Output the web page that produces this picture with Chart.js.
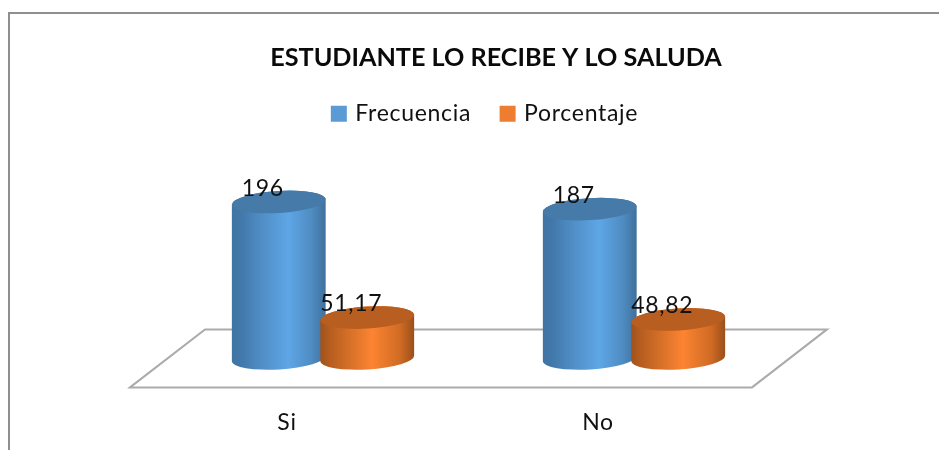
<!DOCTYPE html>
<html><head><meta charset="utf-8">
<style>html,body{margin:0;padding:0;background:#fff;overflow:hidden}canvas{display:block;filter:blur(0.4px)}</style>
<script src="https://cdn.jsdelivr.net/npm/chart.js@4"></script>
</head><body><canvas id="c" width="939" height="450"></canvas>
<script>
const chartTitle = 'ESTUDIANTE LO RECIBE Y LO SALUDA';
const categories = ['Si', 'No'];
const seriesNames = ['Frecuencia', 'Porcentaje'];
const frecuencia = [196, 187];
const porcentaje = [51.17, 48.82];

const legendColors = ['#5b9bd5', '#ed7d31'];
const capColors = ['#457aa9', '#b85e20'];
const bodyStops = [
  [[0,'#3f74a3'],[0.1,'#4278aa'],[0.3,'#4f8cc4'],[0.6,'#5ea6e6'],[0.85,'#4f8cc2'],[1,'#3f719c']],
  [[0,'#a0521c'],[0.1,'#b65d20'],[0.3,'#d46f27'],[0.55,'#fc8432'],[0.85,'#d06b24'],[1,'#9a4f1a']]
];
const FONT = 'Lato, Carlito, sans-serif';
const SPACING = '0.7px';
const TILT = -0.06, RY = 11;

function drawCylinder(ctx, el, ds) {
  const {x, y, base, width} = el.getProps(['x','y','base','width'], true);
  const rx = width / 2;
  const g = ctx.createLinearGradient(x - rx, 0, x + rx, 0);
  bodyStops[ds].forEach(s => g.addColorStop(s[0], s[1]));
  ctx.beginPath();
  ctx.ellipse(x, base, rx, RY, TILT, 0, Math.PI);
  ctx.ellipse(x, y, rx, RY, TILT, Math.PI, 2 * Math.PI);
  ctx.closePath();
  ctx.fillStyle = g;
  ctx.fill();
  ctx.beginPath();
  ctx.ellipse(x, y, rx, RY, TILT, 0, 2 * Math.PI);
  ctx.fillStyle = capColors[ds];
  ctx.fill();
}

const scene = {
  id: 'scene',
  beforeLayout(chart) { chart.ctx.letterSpacing = SPACING; },
  afterLayout(chart) {
    const t = chart.titleBlock;
    t.left += 17.5; t.right += 17.5;
    if (!t._wrapped) {
      const d = t.draw.bind(t);
      t.draw = () => {
        chart.ctx.letterSpacing = '0px';
        d();
        chart.ctx.letterSpacing = SPACING;
      };
      t._wrapped = true;
    }
    chart.legend.left += 7.5; chart.legend.right += 7.5;
  },
  beforeDraw(chart) {
    const ctx = chart.ctx;
    ctx.save();
    ctx.strokeStyle = '#8f8f8f';
    ctx.lineWidth = 2;
    ctx.beginPath();
    ctx.moveTo(9, chart.height);
    ctx.lineTo(9, 13);
    ctx.lineTo(chart.width, 13);
    ctx.stroke();
    ctx.restore();
  },
  beforeDatasetsDraw(chart) {
    const ctx = chart.ctx, a = chart.chartArea, y0 = chart.scales.y.getPixelForValue(0);
    ctx.save();
    ctx.strokeStyle = '#ababab';
    ctx.lineWidth = 2;
    ctx.beginPath();
    ctx.moveTo(a.left - 37.5, y0 + 29);
    ctx.lineTo(a.left + 37.5, y0 - 29);
    ctx.lineTo(a.right + 37.5, y0 - 29);
    ctx.lineTo(a.right - 37.5, y0 + 29);
    ctx.closePath();
    ctx.stroke();
    ctx.restore();
  },
  beforeDatasetDraw() { return false; },
  afterDatasetsDraw(chart) {
    const ctx = chart.ctx;
    ctx.save();
    categories.forEach((_, i) => {
      chart.data.datasets.forEach((d, ds) => {
        drawCylinder(ctx, chart.getDatasetMeta(ds).data[i], ds);
      });
    });
    ctx.font = '23px ' + FONT;
    ctx.fillStyle = '#111';
    ctx.textAlign = 'center';
    ctx.textBaseline = 'middle';
    chart.data.datasets.forEach((d, ds) => {
      chart.getDatasetMeta(ds).data.forEach((el, i) => {
        ctx.fillText(String(d.data[i]).replace('.', ','), el.x - 16, el.y - 13.5);
      });
    });
    ctx.restore();
  }
};

new Chart(document.getElementById('c'), {
  type: 'bar',
  data: {
    labels: categories,
    datasets: [
      {label: seriesNames[0], data: frecuencia, backgroundColor: legendColors[0], borderColor: legendColors[0], borderWidth: 6},
      {label: seriesNames[1], data: porcentaje, backgroundColor: legendColors[1], borderColor: legendColors[1], borderWidth: 6}
    ]
  },
  plugins: [scene],
  options: {
    responsive: false,
    animation: false,
    categoryPercentage: 0.569,
    barPercentage: 1.062,
    layout: {padding: {left: 167.5, right: 149.5, top: 0, bottom: -28}},
    scales: {
      x: {
        grid: {display: false},
        border: {display: false},
        ticks: {font: {family: FONT, size: 23}, color: '#111', labelOffset: -36, padding: 42, maxRotation: 0}
      },
      y: {display: false, min: 0, max: 279.6}
    },
    plugins: {
      tooltip: {enabled: false},
      title: {
        display: true, text: chartTitle, color: '#0a0a0a',
        font: {family: FONT, size: 25.2, weight: 'bold', lineHeight: 1},
        padding: {top: 45.5, bottom: 0}
      },
      legend: {
        position: 'top',
        labels: {
          font: {family: FONT, size: 23}, color: '#111',
          boxWidth: 10, boxHeight: 10, padding: 31.5
        }
      }
    }
  }
});
</script></body></html>
